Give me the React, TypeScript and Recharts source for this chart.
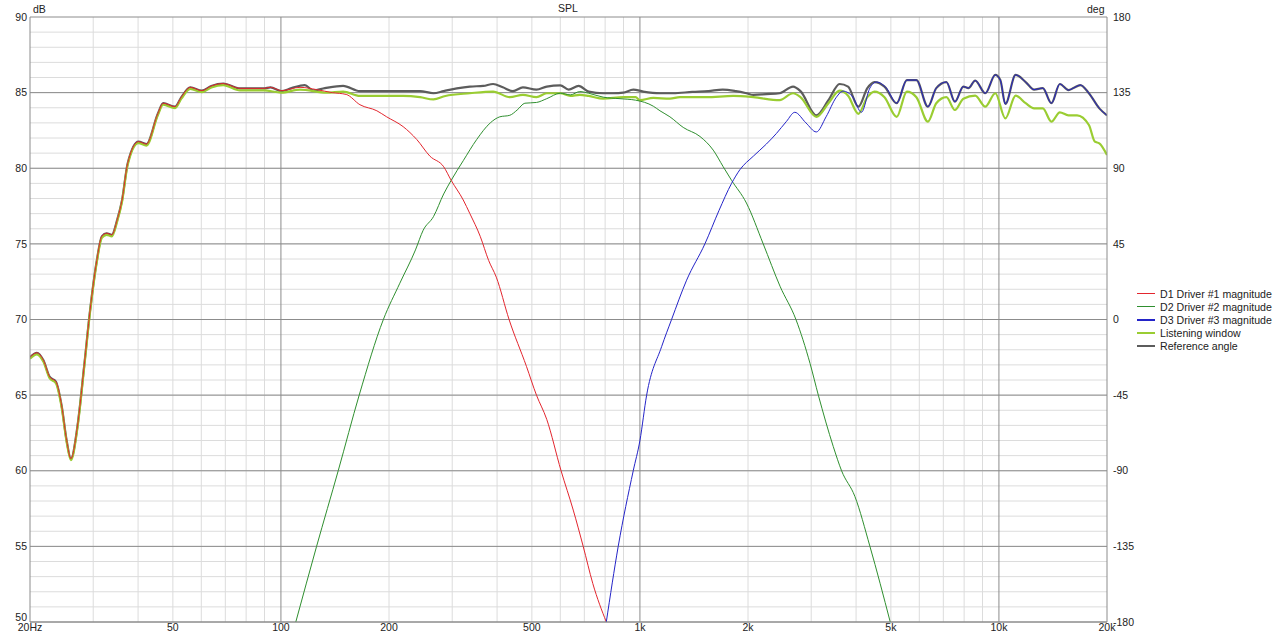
import React from "react";
import { LineChart, Line, XAxis, YAxis, CartesianGrid } from "recharts";

// [frequency Hz, SPL dB]
const driver1: [number, number][] = [
  [20, 67.5], [20.9, 67.8], [21.8, 67.3], [22.7, 66.2], [23.6, 65.9], [24.5, 64.3],
  [25.3, 62.0], [26.0, 60.8], [27.1, 62.9], [28.3, 66.9], [29.4, 70.6], [30.7, 73.9],
  [31.7, 75.5], [32.7, 75.7], [33.8, 75.6], [35.0, 76.6], [36.1, 77.9], [37.4, 80.3],
  [40.1, 81.76], [42.2, 81.6], [45.4, 83.6], [47.0, 84.3], [50.7, 84.07], [52.8, 84.7],
  [55.9, 85.35], [60.2, 85.13], [64.0, 85.44], [69.1, 85.6], [76.9, 85.28], [89.6, 85.28],
  [93.5, 85.35], [100.3, 85.13], [113, 85.35], [125.7, 85.2], [139, 85.0], [152, 84.88],
  [166, 84.2], [185, 83.8], [197, 83.4], [219, 82.75], [239, 81.9], [260, 80.8],
  [284, 80.1], [298, 79.2], [322, 77.9], [336, 77.0], [359, 75.5], [379, 73.9],
  [398, 72.8], [432, 70.0], [483, 66.9], [515, 65.0], [550, 63.4], [603, 60.0],
  [652, 57.4], [695, 55.0], [739, 52.55], [806, 50.0],
];

const driver2: [number, number][] = [
  [110, 50.0], [125.7, 55.0], [144.4, 60.0], [165.2, 65.0], [192.9, 70.0], [214.4, 72.4],
  [237, 74.6], [249, 75.9], [266, 76.8], [284, 78.3], [298, 79.2], [322, 80.5],
  [351, 81.9], [383, 83.0], [407, 83.4], [434, 83.5], [455, 83.85], [478, 84.3],
  [515, 84.35], [550, 84.6], [600, 84.96], [640, 84.85], [680, 85.07], [720, 84.96],
  [790, 84.7], [880, 84.6], [973, 84.5], [1090, 84.1], [1137, 83.8], [1212, 83.4],
  [1320, 82.7], [1470, 82.1], [1600, 81.2], [1706, 80.1], [1800, 79.2], [1980, 77.7],
  [2205, 75.0], [2456, 72.2], [2720, 70.0], [2977, 67.1], [3140, 65.0], [3456, 61.6],
  [3645, 60.0], [3970, 58.3], [4372, 55.0], [4980, 50.0],
];

const driver3: [number, number][] = [
  [806, 50.0], [870, 55.0], [958, 60.0], [1000, 62.0], [1044, 65.0], [1149, 68.2],
  [1225, 70.0], [1349, 72.6], [1517, 75.0], [1660, 77.2], [1800, 79.0], [1898, 79.9],
  [2070, 80.8], [2250, 81.6], [2400, 82.3], [2560, 83.1], [2700, 83.7], [2900, 83.0],
  [3100, 82.4], [3300, 83.4], [3526, 84.7], [3680, 85.1], [3920, 84.7], [4140, 83.7],
  [4370, 85.3], [4560, 85.7], [4860, 85.3], [5190, 84.3], [5540, 85.83], [5890, 85.83],
  [6340, 84.07], [6690, 85.3], [7140, 85.7], [7540, 84.4], [7960, 85.4], [8220, 85.3],
  [8590, 85.8], [9160, 84.96], [9770, 86.17], [10090, 85.83], [10420, 84.25], [11130, 86.17],
  [11870, 85.7], [12530, 85.2], [13250, 85.3], [14000, 84.3], [14780, 85.57], [15620, 85.17],
  [16130, 85.3], [16850, 85.5], [17810, 84.96], [19040, 83.96], [20000, 83.5],
];

const listeningWindow: [number, number][] = [
  [20, 67.4], [20.9, 67.7], [21.8, 67.2], [22.7, 66.1], [23.6, 65.8], [24.5, 64.2],
  [25.3, 61.9], [26.0, 60.7], [27.1, 62.8], [28.3, 66.8], [29.4, 70.5], [30.7, 73.8],
  [31.7, 75.4], [32.7, 75.6], [33.8, 75.5], [35.0, 76.5], [36.1, 77.8], [37.4, 80.2],
  [40.1, 81.66], [42.2, 81.5], [45.4, 83.5], [47.0, 84.2], [50.7, 83.97], [52.8, 84.6],
  [55.9, 85.25], [60.2, 85.03], [64.0, 85.34], [69.1, 85.5], [76.9, 85.15], [89.6, 85.15],
  [100.3, 85.0], [113, 85.2], [134, 85.0], [149, 85.07], [166, 84.78], [219, 84.78],
  [244, 84.7], [266, 84.55], [287, 84.78], [336, 84.96], [390, 85.07], [434, 84.7],
  [472, 84.85], [515, 84.7], [550, 84.96], [600, 84.96], [640, 84.78], [680, 84.85],
  [720, 84.78], [790, 84.6], [899, 84.7], [973, 84.7], [1000, 84.5], [1090, 84.65],
  [1212, 84.6], [1292, 84.7], [1530, 84.7], [1820, 84.78], [2070, 84.7], [2450, 84.5],
  [2670, 84.96], [2800, 84.7], [3100, 83.4], [3350, 84.3], [3600, 85.13], [3800, 84.8],
  [4060, 83.6], [4300, 84.7], [4500, 85.07], [4800, 84.7], [5190, 83.4], [5540, 85.07],
  [5890, 84.7], [6340, 83.08], [6690, 84.3], [7140, 84.7], [7540, 83.85], [7960, 84.6],
  [8590, 84.8], [9160, 84.07], [9770, 84.96], [10420, 83.3], [11130, 84.8], [11870, 84.3],
  [12530, 83.96], [13250, 83.96], [14000, 83.08], [14780, 83.7], [15620, 83.5], [16500, 83.5],
  [17810, 82.86], [18500, 81.76], [19040, 81.65], [20000, 80.88],
];

const referenceAngle: [number, number][] = [
  [20, 67.5], [20.9, 67.8], [21.8, 67.3], [22.7, 66.2], [23.6, 65.9], [24.5, 64.3],
  [25.3, 62.0], [26.0, 60.8], [27.1, 62.9], [28.3, 66.9], [29.4, 70.6], [30.7, 73.9],
  [31.7, 75.5], [32.7, 75.7], [33.8, 75.6], [35.0, 76.6], [36.1, 77.9], [37.4, 80.3],
  [40.1, 81.76], [42.2, 81.6], [45.4, 83.6], [47.0, 84.3], [50.7, 84.07], [52.8, 84.7],
  [55.9, 85.35], [60.2, 85.13], [64.0, 85.44], [69.1, 85.6], [76.9, 85.28], [89.6, 85.28],
  [93.5, 85.35], [100.3, 85.1], [107, 85.3], [116.5, 85.5], [123, 85.15], [132.6, 85.3],
  [149, 85.45], [166, 85.1], [185, 85.1], [219, 85.1], [244, 85.1], [266, 84.96],
  [284, 85.1], [309, 85.28], [336, 85.4], [366, 85.44], [390, 85.57], [415, 85.35],
  [443, 85.1], [472, 85.35], [515, 85.2], [550, 85.4], [600, 85.48], [633, 85.2],
  [675, 85.44], [720, 85.07], [790, 84.96], [843, 84.96], [899, 85.0], [958, 85.2],
  [1021, 85.07], [1137, 84.96], [1237, 84.96], [1400, 85.05], [1550, 85.1], [1700, 85.2],
  [1850, 85.1], [1980, 84.96], [2070, 84.85], [2250, 84.9], [2450, 84.96], [2670, 85.4],
  [2800, 85.1], [3100, 83.5], [3350, 84.5], [3600, 85.57], [3800, 85.4], [4060, 84.07],
  [4300, 85.3], [4500, 85.7], [4800, 85.4], [5190, 84.3], [5540, 85.83], [5890, 85.83],
  [6340, 84.07], [6690, 85.3], [7140, 85.7], [7540, 84.4], [7960, 85.4], [8220, 85.3],
  [8590, 85.8], [9160, 84.96], [9770, 86.17], [10090, 85.83], [10420, 84.25], [11130, 86.17],
  [11870, 85.7], [12530, 85.2], [13250, 85.3], [14000, 84.3], [14780, 85.57], [15620, 85.17],
  [16130, 85.3], [16850, 85.5], [17810, 84.96], [19040, 83.96], [20000, 83.5],
];

const freqTicks = [20, 50, 100, 200, 500, 1000, 2000, 5000, 10000, 20000];
const dbTicks = [50, 55, 60, 65, 70, 75, 80, 85, 90];
const degTicks = [-180, -135, -90, -45, 0, 45, 90, 135, 180];

const minorFreqs = [
  30, 40, 50, 60, 70, 80, 90, 200, 300, 400, 500, 600, 700, 800, 900,
  2000, 3000, 4000, 5000, 6000, 7000, 8000, 9000,
];
const majorFreqs = [100, 1000, 10000];
const minorDb = Array.from({ length: 39 }, (_, i) => 51 + i);

const series = [
  { name: "Reference angle", data: referenceAngle, color: "#5c5c5c", width: 2.2 },
  { name: "Listening window", data: listeningWindow, color: "#9acd32", width: 2.2 },
  { name: "D2 Driver #2 magnitude", data: driver2, color: "#2f8f2f", width: 1 },
  { name: "D1 Driver #1 magnitude", data: driver1, color: "#e3262e", width: 1 },
  { name: "D3 Driver #3 magnitude", data: driver3, color: "#2424c8", width: 1 },
];

const legendOrder = [
  { name: "D1 Driver #1 magnitude", color: "#e3262e", width: 1 },
  { name: "D2 Driver #2 magnitude", color: "#2f8f2f", width: 1 },
  { name: "D3 Driver #3 magnitude", color: "#2424c8", width: 2 },
  { name: "Listening window", color: "#9acd32", width: 2 },
  { name: "Reference angle", color: "#5c5c5c", width: 2 },
];

const FONT = "'Liberation Sans', Arial, sans-serif";
const TEXT = "#222";

const fmtFreq = (v: number) => {
  if (v === 20) return "20Hz";
  if (v >= 1000) return `${v / 1000}k`;
  return String(v);
};

const DbTick = (props: any) => {
  const { x, y, payload } = props;
  const shift = payload.value === 50 ? -5 : 0;
  return (
    <text x={x} y={y + shift} dy="0.355em" textAnchor="end" fontSize={10.5} fill={TEXT}>
      {payload.value}
    </text>
  );
};

const DegTick = (props: any) => {
  const { x, y, payload } = props;
  return (
    <text x={x} y={y} dy="0.355em" textAnchor="start" fontSize={10.5} fill={TEXT}>
      {payload.value}
    </text>
  );
};

export default function App() {
  return (
    <div
      style={{
        position: "absolute",
        left: 0,
        top: 0,
        width: 1280,
        height: 640,
        background: "#fff",
        fontFamily: FONT,
      }}
    >
      <LineChart width={1280} height={640} margin={{ top: 17, right: 133, bottom: 0, left: 0 }}>
        <CartesianGrid
          yAxisId="db"
          horizontalValues={minorDb}
          verticalValues={minorFreqs}
          stroke="#dcdcdc"
          strokeWidth={1}
        />
        <CartesianGrid
          yAxisId="db"
          horizontalValues={dbTicks}
          verticalValues={majorFreqs}
          stroke="#8c8c8c"
          strokeWidth={1}
        />
        <XAxis
          dataKey="f"
          type="number"
          scale="log"
          domain={[20, 20000]}
          allowDataOverflow
          ticks={freqTicks}
          interval={0}
          tickFormatter={fmtFreq}
          height={18}
          tickSize={0}
          tickMargin={2}
          axisLine={{ stroke: "#8c8c8c" }}
          tick={{ fontSize: 10.5, fill: TEXT }}
        />
        <YAxis
          yAxisId="db"
          type="number"
          domain={[50, 90]}
          allowDataOverflow
          ticks={dbTicks}
          interval={0}
          width={30}
          tickSize={0}
          tickMargin={3}
          axisLine={{ stroke: "#8c8c8c" }}
          tick={<DbTick />}
        />
        <YAxis
          yAxisId="deg"
          orientation="right"
          type="number"
          domain={[-180, 180]}
          allowDataOverflow
          ticks={degTicks}
          interval={0}
          width={40}
          tickSize={0}
          tickMargin={6}
          axisLine={{ stroke: "#8c8c8c" }}
          tick={<DegTick />}
        />
        {series.map((s) => (
          <Line
            key={s.name}
            yAxisId="db"
            data={s.data.map(([f, db]) => ({ f, db }))}
            dataKey="db"
            name={s.name}
            type="monotone"
            stroke={s.color}
            strokeWidth={s.width}
            dot={false}
            activeDot={false}
            isAnimationActive={false}
          />
        ))}
      </LineChart>

      <div style={{ position: "absolute", left: 0, width: 1136, top: 2, textAlign: "center", fontSize: 10.5, color: TEXT }}>
        SPL
      </div>
      <div style={{ position: "absolute", left: 33, top: 3, fontSize: 10.5, color: TEXT }}>dB</div>
      <div style={{ position: "absolute", left: 1087, top: 3, fontSize: 10.5, color: TEXT }}>deg</div>

      <div style={{ position: "absolute", left: 1137, top: 287, fontSize: 10.6, color: TEXT }}>
        {legendOrder.map((l) => (
          <div key={l.name} style={{ display: "flex", alignItems: "center", height: 13 }}>
            <span style={{ display: "inline-block", width: 18, height: l.width, background: l.color, marginRight: 5 }} />
            <span>{l.name}</span>
          </div>
        ))}
      </div>
    </div>
  );
}
